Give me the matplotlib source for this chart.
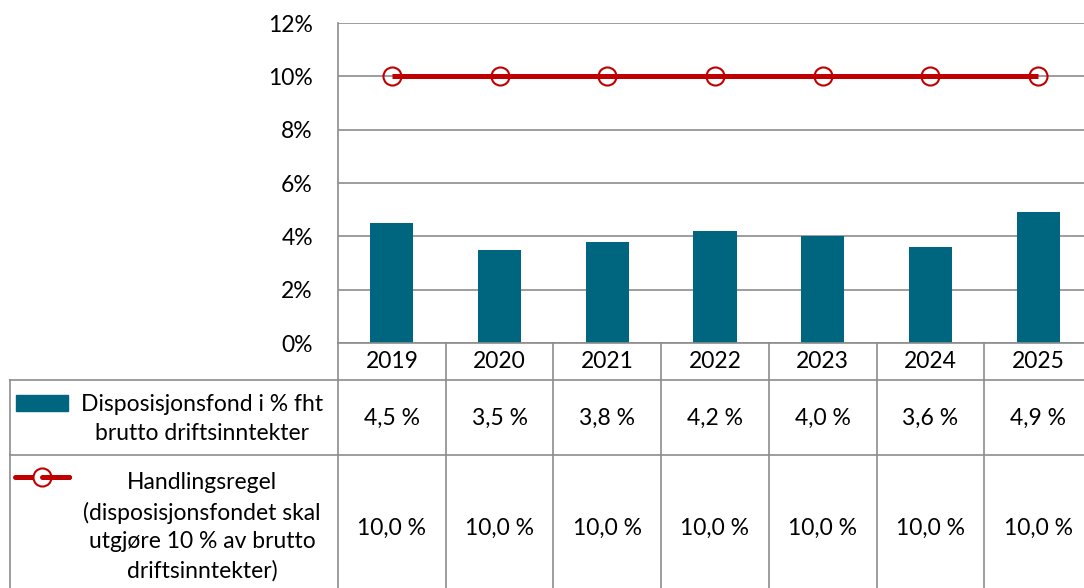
import matplotlib.pyplot as plt
import matplotlib.transforms as mtransforms
from matplotlib.lines import Line2D
from matplotlib.patches import Rectangle

years = ['2019', '2020', '2021', '2022', '2023', '2024', '2025']
fond = [4.5, 3.5, 3.8, 4.2, 4.0, 3.6, 4.9]
regel = [10.0, 10.0, 10.0, 10.0, 10.0, 10.0, 10.0]
yticks = [0, 2, 4, 6, 8, 10, 12]
label_fond = 'Disposisjonsfond i % fht\nbrutto driftsinntekter'
label_regel = 'Handlingsregel\n(disposisjonsfondet skal\nutgjøre 10 % av brutto\ndriftsinntekter)'

BAR = '#00657F'
RED = '#C00000'
GRID = '#8C8C8C'

plt.rcParams['font.family'] = ['Lato', 'DejaVu Sans']

W, H = 1084, 588
fig = plt.figure(figsize=(W / 100, H / 100), dpi=100)

def fx(px):
    return px / W

def fy(px):
    return 1 - px / H

fs = 16.5

ax = fig.add_axes([fx(338), fy(343), fx(1092) - fx(338), fy(23) - fy(343)])
x = list(range(len(years)))
ax.bar(x, fond, width=0.4, color=BAR, zorder=3)
ax.plot(x, regel, color=RED, lw=3.6, marker='o', ms=13, mfc='none',
        mec=RED, mew=1.5, zorder=4, solid_capstyle='butt')
ax.set_xlim(-0.5, len(years) - 0.5)
ax.set_ylim(0, 12)
ax.set_yticks(yticks)
ax.set_yticklabels([f'{v}%' for v in yticks], fontsize=fs)
ax.set_xticks([])
ax.tick_params(axis='y', length=0, pad=18)
ax.grid(axis='y', color=GRID, lw=1.2, zorder=0)
for s in ['top', 'right', 'bottom']:
    ax.spines[s].set_visible(False)
ax.spines['left'].set_color(GRID)
ax.spines['left'].set_linewidth(1.2)

# data table below the plot
tr = mtransforms.blended_transform_factory(ax.transData, fig.transFigure)
edges = [i - 0.5 for i in range(len(years) + 1)]
lkw = dict(color=GRID, lw=1.2)
fig.add_artist(Line2D([edges[0], edges[-1]], [fy(343)] * 2, transform=tr, **lkw))
for yy in [380, 455]:
    fig.add_artist(Line2D([fx(10), 1.0], [fy(yy)] * 2, transform=fig.transFigure, **lkw))
fig.add_artist(Line2D([fx(10)] * 2, [fy(380), 0], transform=fig.transFigure, **lkw))
for e in edges:
    fig.add_artist(Line2D([e, e], [fy(343), 0], transform=tr, **lkw))

for i, yr in enumerate(years):
    fig.text(i, fy(362), yr, transform=tr, ha='center', va='center', fontsize=fs)
    fig.text(i, fy(418), f'{fond[i]:.1f} %'.replace('.', ','), transform=tr,
             ha='center', va='center', fontsize=fs)
    fig.text(i, fy(528), f'{regel[i]:.1f} %'.replace('.', ','), transform=tr,
             ha='center', va='center', fontsize=fs)

# legend keys and row labels
fig.add_artist(Rectangle((fx(16), fy(411)), fx(68) - fx(16), fy(395) - fy(411),
                         transform=fig.transFigure, color=BAR))
fig.add_artist(Line2D([fx(15), fx(69)], [fy(477)] * 2, transform=fig.transFigure,
                      color=RED, lw=3.6, solid_capstyle='round'))
fig.add_artist(Line2D([fx(42)], [fy(477)], transform=fig.transFigure, marker='o',
                      ms=13, mfc='white', mec=RED, mew=1.5))
fig.add_artist(Line2D([fx(42), fx(69)], [fy(477)] * 2, transform=fig.transFigure,
                      color=RED, lw=3.6, solid_capstyle='round'))
fig.text(fx(202), fy(419), label_fond, ha='center', va='center', fontsize=fs,
         linespacing=1.45)
fig.text(fx(202), fy(527), label_regel, ha='center', va='center', fontsize=fs,
         linespacing=1.45)

fig.savefig('out.png', dpi=100)
